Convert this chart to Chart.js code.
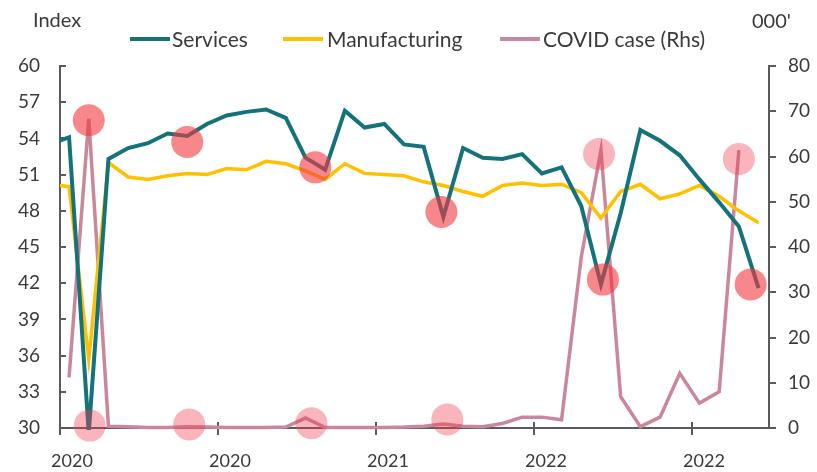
<!DOCTYPE html>
<html>
<head>
<meta charset="utf-8">
<script src="https://cdn.jsdelivr.net/npm/chart.js@4/dist/chart.umd.min.js"></script>
<style>
html,body{margin:0;padding:0;background:#ffffff;}
#wrap{width:817px;height:472px;position:relative;}
</style>
</head>
<body>
<div id="wrap"><canvas id="c" width="817" height="472"></canvas></div>
<script>
// ---- data (monthly, Dec 2019 .. Dec 2022) ----
const months = [
  'Dec 2019',
  'Jan 2020','Feb 2020','Mar 2020','Apr 2020','May 2020','Jun 2020','Jul 2020','Aug 2020','Sep 2020','Oct 2020','Nov 2020','Dec 2020',
  'Jan 2021','Feb 2021','Mar 2021','Apr 2021','May 2021','Jun 2021','Jul 2021','Aug 2021','Sep 2021','Oct 2021','Nov 2021','Dec 2021',
  'Jan 2022','Feb 2022','Mar 2022','Apr 2022','May 2022','Jun 2022','Jul 2022','Aug 2022','Sep 2022','Oct 2022','Nov 2022','Dec 2022'
];
const services = [
  53.5,
  54.1, 29.6, 52.3, 53.2, 53.6, 54.4, 54.2, 55.2, 55.9, 56.2, 56.4, 55.7,
  52.4, 51.4, 56.3, 54.9, 55.2, 53.5, 53.3, 47.5, 53.2, 52.4, 52.3, 52.7,
  51.1, 51.6, 48.4, 41.9, 47.8, 54.7, 53.8, 52.6, 50.6, 48.7, 46.7, 41.6
];
const manufacturing = [
  50.2,
  50.0, 35.7, 52.0, 50.8, 50.6, 50.9, 51.1, 51.0, 51.5, 51.4, 52.1, 51.9,
  51.3, 50.6, 51.9, 51.1, 51.0, 50.9, 50.4, 50.1, 49.6, 49.2, 50.1, 50.3,
  50.1, 50.2, 49.5, 47.4, 49.6, 50.2, 49.0, 49.4, 50.1, 49.2, 48.0, 47.0
];
// COVID cases, thousands (right axis)
const covidCases = [
  null,
  11.2, 68.3, 0.4, 0.3, 0.1, 0.1, 0.3, 0.2, 0.1, 0.1, 0.1, 0.2,
  2.2, 0.1, 0.1, 0.1, 0.1, 0.2, 0.4, 0.9, 0.4, 0.3, 1.0, 2.4,
  2.4, 1.8, 37.8, 61.4, 6.9, 0.3, 2.4, 12.1, 5.5, 8.0, 61.4, null
];
// x axis: month index (Jan 2020 = 0)
const xTickMonths = [-0.46, 7.56, 15.58, 23.6, 31.62];
const xTickLabels = ['2020', '2020', '2021', '2022', '2022'];
// highlight circles (month index, index value)
const highlightStrongMonths = [1.0, 6.0, 12.5, 18.9, 27.1, 34.6];
const highlightStrongValues = [55.5, 53.7, 51.6, 47.9, 42.3, 41.9];
const highlightSoftMonths = [1.05, 6.1, 12.3, 19.2, 26.9, 34.0];
const highlightSoftValues = [30.2, 30.3, 30.4, 30.7, 52.7, 52.3];

// ---- build ----
const FONT = 'Lato, "Open Sans", sans-serif';
const TXT = '#3a3a3a';
const AXIS = '#5a5a5a';
const monthIdx = i => i - 1;
const series = arr => arr.map((v, i) => ({x: monthIdx(i), y: v}));
const pairs = (ms, vs) => ms.map((m, i) => ({x: m, y: vs[i]}));

const decor = {
  id: 'decor',
  beforeDatasetsDraw(chart) {
    const {ctx, scales: {x, y, y1}} = chart;
    ctx.save();
    ctx.strokeStyle = AXIS;
    ctx.lineWidth = 2;
    ctx.beginPath();
    y.ticks.forEach(t => { const p = Math.round(y.getPixelForValue(t.value)); ctx.moveTo(y.right, p); ctx.lineTo(y.right + 6, p); });
    y1.ticks.forEach(t => { const p = Math.round(y1.getPixelForValue(t.value)); ctx.moveTo(y1.left, p); ctx.lineTo(y1.left + 7, p); });
    x.ticks.forEach(t => { const p = Math.round(x.getPixelForValue(t.value)); ctx.moveTo(p, x.top - 6); ctx.lineTo(p, x.top + 7); });
    ctx.stroke();
    ctx.restore();
  },
  afterDraw(chart) {
    const {ctx} = chart;
    ctx.save();
    ctx.fillStyle = TXT;
    ctx.textBaseline = 'alphabetic';
    ctx.textAlign = 'left';
    ctx.font = '20px ' + FONT;
    ctx.fillText('Index', 33, 27);
    ctx.fillText("000'", 752, 28);
    // legend
    const items = [
      {ds: chart.data.datasets[0], lx: 130, tx: 172},
      {ds: chart.data.datasets[1], lx: 283, tx: 327},
      {ds: chart.data.datasets[2], lx: 500, tx: 543}
    ];
    ctx.font = '21px ' + FONT;
    items.forEach(it => {
      ctx.strokeStyle = it.ds.borderColor;
      ctx.lineWidth = 4;
      ctx.beginPath();
      ctx.moveTo(it.lx, 39);
      ctx.lineTo(it.lx + 40, 39);
      ctx.stroke();
      ctx.fillStyle = TXT;
      ctx.fillText(it.ds.label, it.tx, 47);
    });
    ctx.restore();
  }
};

new Chart(document.getElementById('c'), {
  type: 'line',
  data: {
    datasets: [
      {label: 'Services', data: series(services), borderColor: '#14737a', borderWidth: 4,
       pointRadius: 0, yAxisID: 'y', order: 1, clip: {left: 0, top: 3, right: 3, bottom: 2}},
      {label: 'Manufacturing', data: series(manufacturing), borderColor: '#ffc000', borderWidth: 3.5,
       pointRadius: 0, yAxisID: 'y', order: 2, clip: {left: 0, top: 3, right: 3, bottom: 2}},
      {label: 'COVID case (Rhs)', data: series(covidCases), borderColor: '#c98799', borderWidth: 3.5,
       pointRadius: 0, yAxisID: 'y1', order: 3, clip: {left: 0, top: 3, right: 3, bottom: 2}},
      {label: 'highlight', data: pairs(highlightStrongMonths, highlightStrongValues), showLine: false,
       pointRadius: 16, pointBorderWidth: 0, pointBackgroundColor: 'rgba(242,55,60,0.6)',
       pointBorderColor: 'rgba(0,0,0,0)', yAxisID: 'y', order: 0, clip: false},
      {label: 'highlight2', data: pairs(highlightSoftMonths, highlightSoftValues), showLine: false,
       pointRadius: 16, pointBorderWidth: 0, pointBackgroundColor: 'rgba(242,60,80,0.38)',
       pointBorderColor: 'rgba(0,0,0,0)', yAxisID: 'y', order: 0, clip: false}
    ]
  },
  options: {
    responsive: false,
    animation: false,
    devicePixelRatio: 1,
    layout: {padding: {top: 66, left: 0, right: 0, bottom: 0}},
    plugins: {legend: {display: false}, tooltip: {enabled: false}, title: {display: false}},
    elements: {line: {tension: 0, borderCapStyle: 'butt', borderJoinStyle: 'miter'}},
    scales: {
      x: {
        type: 'linear', min: -0.46, max: 35.53,
        afterBuildTicks: s => { s.ticks = xTickMonths.map(v => ({value: v})); },
        afterFit: s => { s.height = 44; },
        grid: {display: false, drawTicks: false},
        border: {display: true, color: AXIS, width: 2},
        ticks: {autoSkip: false, maxRotation: 0, padding: 22, labelOffset: 12, color: TXT,
                font: {family: FONT, size: 18},
                callback: (v, i) => xTickLabels[i]}
      },
      y: {
        position: 'left', min: 30, max: 60,
        afterFit: s => { s.width = 60; },
        grid: {display: false, drawTicks: false},
        border: {display: true, color: AXIS, width: 2},
        ticks: {stepSize: 3, padding: 20, color: TXT, font: {family: FONT, size: 19}}
      },
      y1: {
        position: 'right', min: 0, max: 80,
        afterFit: s => { s.width = 48; },
        grid: {display: false, drawTicks: false},
        border: {display: true, color: AXIS, width: 2},
        ticks: {stepSize: 10, padding: 19, color: TXT, font: {family: FONT, size: 19}}
      }
    }
  },
  plugins: [decor]
});
</script>
</body>
</html>
